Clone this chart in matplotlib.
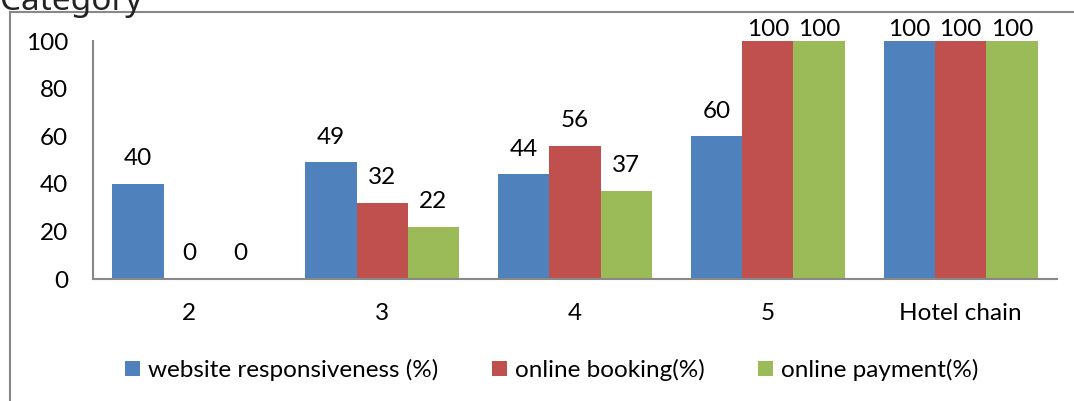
import matplotlib.pyplot as plt
import numpy as np
from matplotlib.patches import Patch
from matplotlib.lines import Line2D

plt.rcParams['font.family'] = ['Lato', 'DejaVu Sans']

# данные
categories = ['2', '3', '4', '5', 'Hotel chain']
series_names = ['website responsiveness (%)', 'online booking(%)', 'online payment(%)']
responsiveness = [40, 49, 44, 60, 100]
booking = [0, 32, 56, 100, 100]
payment = [0, 22, 37, 100, 100]
colors = ['#4F81BD', '#C0504D', '#9BBB59']
y_ticks = [0, 20, 40, 60, 80, 100]

W, H = 1074, 401
fs = 17.5
fig = plt.figure(figsize=(W / 100, H / 100), dpi=100)
ax = fig.add_axes([93 / W, 1 - 279 / H, (1057 - 93) / W, (279 - 41) / H])

x = np.arange(len(categories))
width = 0.266
all_series = [responsiveness, booking, payment]
for i, vals in enumerate(all_series):
    pos = x + (i - 1) * width
    ax.bar(pos, vals, width, color=colors[i], edgecolor='none')
    for xp, v in zip(pos, vals):
        # подписи у 100 прижаты вниз, как в Excel
        off = 8 if v >= 100 else 18
        ax.annotate(str(v), (xp, v), xytext=(0, off), textcoords='offset points',
                    ha='center', va='center', fontsize=fs, color='black')

ax.set_xlim(-0.5, len(categories) - 0.5)
ax.set_ylim(0, 100)
ax.set_yticks(y_ticks)
ax.set_xticks(x)
ax.set_xticklabels(categories)
ax.tick_params(axis='both', length=0, labelsize=fs)
ax.tick_params(axis='y', pad=18)
ax.tick_params(axis='x', pad=17)
for s in ['top', 'right']:
    ax.spines[s].set_visible(False)
for s in ['left', 'bottom']:
    ax.spines[s].set_color('#888888')
    ax.spines[s].set_linewidth(1.5)

handles = [Patch(facecolor=c, edgecolor='none') for c in colors]
fig.legend(handles, series_names, loc='center', bbox_to_anchor=(552 / W, 1 - 370 / H),
           ncol=3, frameon=False, fontsize=fs, handlelength=0.6, handleheight=0.6,
           handletextpad=0.35, columnspacing=2.2)

# внешняя рамка
fig.add_artist(Line2D([10 / W, 1], [1 - 12 / H, 1 - 12 / H], color='#888888', lw=1.5,
                      transform=fig.transFigure))
fig.add_artist(Line2D([10 / W, 10 / W], [1 - 12 / H, 0], color='#888888', lw=1.5,
                      transform=fig.transFigure))
fig.text(0, 1 - 2 / H, 'Category', fontsize=24, family=['Noto Sans', 'DejaVu Sans'],
         ha='left', va='center', color='#222222')

fig.savefig('out.png', dpi=100)
